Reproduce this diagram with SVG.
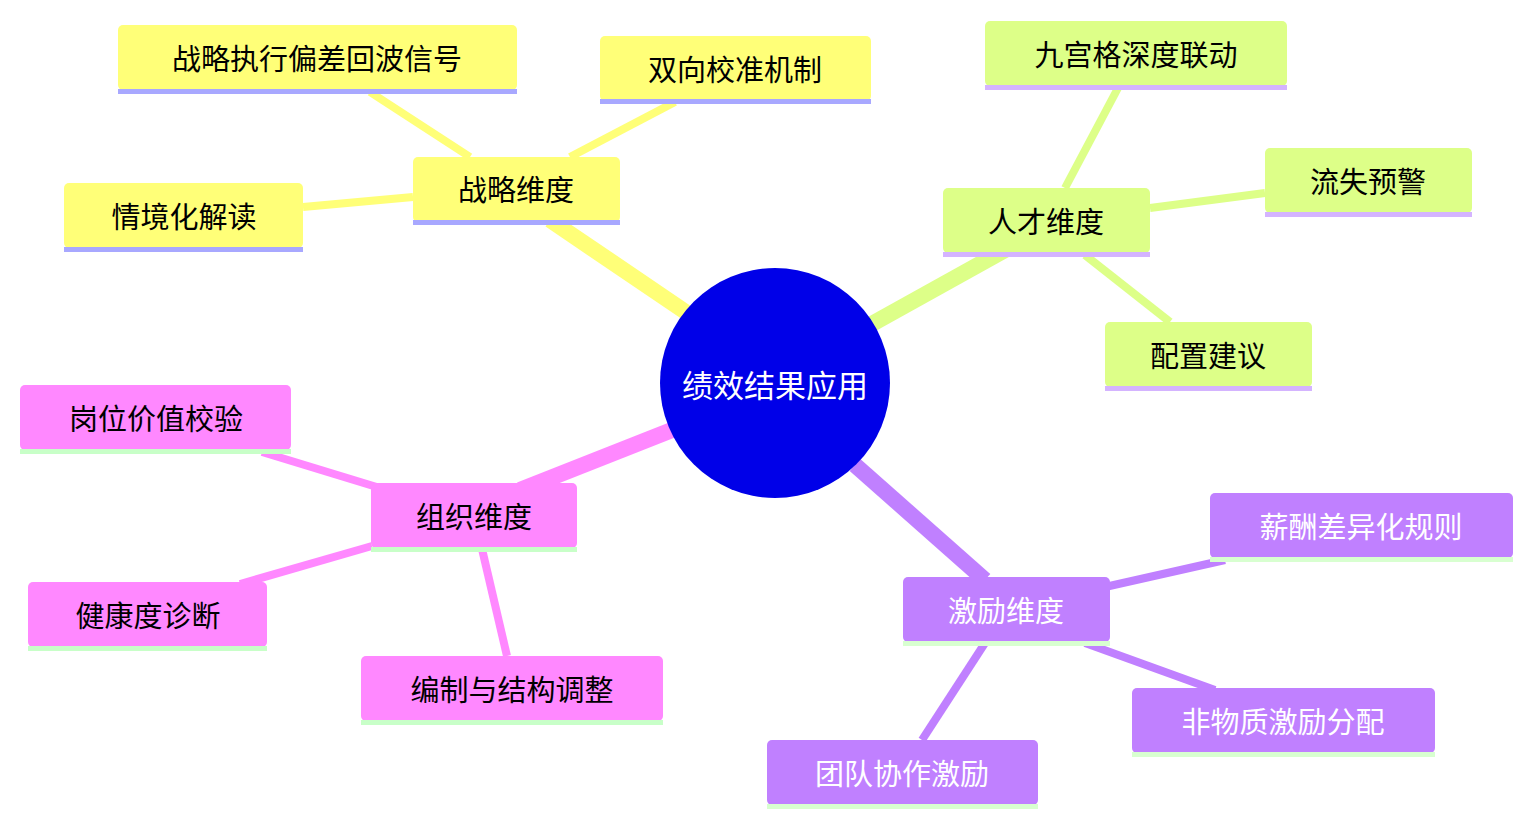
<svg xmlns="http://www.w3.org/2000/svg" width="1533" height="826" viewBox="0 0 1533 826">
<style>
text{font-family:"Noto Sans CJK SC","Noto Sans",sans-serif;font-size:29px;text-anchor:middle;dominant-baseline:central}
.y rect.b{fill:#ffff78}.y rect.u{fill:#a8a8ff}
.g rect.b{fill:#ddff88}.g rect.u{fill:#d4b4ff}
.p rect.b{fill:#ff88ff}.p rect.u{fill:#c8ffc8}
.v rect.b{fill:#c080ff}.v rect.u{fill:#d8ffd0}
.v text{fill:#fff}
.ey{stroke:#ffff78}.eg{stroke:#ddff88}.ep{stroke:#ff88ff}.ev{stroke:#c080ff}
</style>
<rect width="1533" height="826" fill="#fff"/>
<g id="connectors" fill="none" stroke-linecap="butt">
<line class="ey" x1="690" y1="315" x2="550" y2="220" stroke-width="16"/>
<line class="eg" x1="870" y1="325" x2="1005" y2="250" stroke-width="16"/>
<line class="ep" x1="672" y1="430" x2="520" y2="490" stroke-width="16"/>
<line class="ev" x1="855" y1="465" x2="985" y2="580" stroke-width="16"/>
<line class="ey" x1="470" y1="157" x2="370" y2="92" stroke-width="8"/>
<line class="ey" x1="570" y1="157" x2="675" y2="102" stroke-width="8"/>
<line class="ey" x1="413" y1="197" x2="303" y2="207" stroke-width="8"/>
<line class="eg" x1="1065" y1="188" x2="1118" y2="88" stroke-width="8"/>
<line class="eg" x1="1150" y1="208" x2="1265" y2="193" stroke-width="8"/>
<line class="eg" x1="1085" y1="255" x2="1170" y2="322" stroke-width="8"/>
<line class="ep" x1="380" y1="488" x2="262" y2="452" stroke-width="8"/>
<line class="ep" x1="372" y1="546" x2="240" y2="584" stroke-width="8"/>
<line class="ep" x1="482" y1="549" x2="507" y2="656" stroke-width="8"/>
<line class="ev" x1="1105" y1="587" x2="1225" y2="560" stroke-width="8"/>
<line class="ev" x1="1085" y1="643" x2="1215" y2="690" stroke-width="8"/>
<line class="ev" x1="985" y1="643" x2="922" y2="740" stroke-width="8"/>
</g>
<g id="root"><circle cx="775" cy="383" r="115" fill="#0000e8"/><text x="775" y="383" fill="#fff" style="font-size:31px">绩效结果应用</text></g>
<g id="n1" class="y"><rect class="b" x="413" y="157" width="207" height="65" rx="5"/><rect class="u" x="413" y="220" width="207" height="5"/><text x="516" y="188">战略维度</text></g>
<g id="n2" class="y"><rect class="b" x="118" y="25" width="399" height="65" rx="5"/><rect class="u" x="118" y="89" width="399" height="5"/><text x="317" y="57">战略执行偏差回波信号</text></g>
<g id="n3" class="y"><rect class="b" x="600" y="36" width="271" height="65" rx="5"/><rect class="u" x="600" y="99" width="271" height="5"/><text x="735" y="68">双向校准机制</text></g>
<g id="n4" class="y"><rect class="b" x="64" y="183" width="239" height="65" rx="5"/><rect class="u" x="64" y="247" width="239" height="5"/><text x="184" y="215">情境化解读</text></g>
<g id="n5" class="g"><rect class="b" x="943" y="188" width="207" height="65" rx="5"/><rect class="u" x="943" y="252" width="207" height="5"/><text x="1046" y="220">人才维度</text></g>
<g id="n6" class="g"><rect class="b" x="985" y="21" width="302" height="65" rx="5"/><rect class="u" x="985" y="85" width="302" height="5"/><text x="1136" y="53">九宫格深度联动</text></g>
<g id="n7" class="g"><rect class="b" x="1265" y="148" width="207" height="65" rx="5"/><rect class="u" x="1265" y="212" width="207" height="5"/><text x="1368" y="180">流失预警</text></g>
<g id="n8" class="g"><rect class="b" x="1105" y="322" width="207" height="65" rx="5"/><rect class="u" x="1105" y="386" width="207" height="5"/><text x="1208" y="354">配置建议</text></g>
<g id="n9" class="p"><rect class="b" x="371" y="483" width="206" height="65" rx="5"/><rect class="u" x="371" y="547" width="206" height="5"/><text x="474" y="515">组织维度</text></g>
<g id="n10" class="p"><rect class="b" x="20" y="385" width="271" height="65" rx="5"/><rect class="u" x="20" y="449" width="271" height="5"/><text x="156" y="417">岗位价值校验</text></g>
<g id="n11" class="p"><rect class="b" x="28" y="582" width="239" height="65" rx="5"/><rect class="u" x="28" y="646" width="239" height="5"/><text x="148" y="614">健康度诊断</text></g>
<g id="n12" class="p"><rect class="b" x="361" y="656" width="302" height="65" rx="5"/><rect class="u" x="361" y="720" width="302" height="5"/><text x="512" y="688">编制与结构调整</text></g>
<g id="n13" class="v"><rect class="b" x="903" y="577" width="207" height="65" rx="5"/><rect class="u" x="903" y="641" width="207" height="5"/><text x="1006" y="609">激励维度</text></g>
<g id="n14" class="v"><rect class="b" x="1210" y="493" width="303" height="65" rx="5"/><rect class="u" x="1210" y="557" width="303" height="5"/><text x="1361" y="525">薪酬差异化规则</text></g>
<g id="n15" class="v"><rect class="b" x="1132" y="688" width="303" height="65" rx="5"/><rect class="u" x="1132" y="752" width="303" height="5"/><text x="1283" y="720">非物质激励分配</text></g>
<g id="n16" class="v"><rect class="b" x="767" y="740" width="271" height="65" rx="5"/><rect class="u" x="767" y="804" width="271" height="5"/><text x="902" y="772">团队协作激励</text></g>
</svg>
